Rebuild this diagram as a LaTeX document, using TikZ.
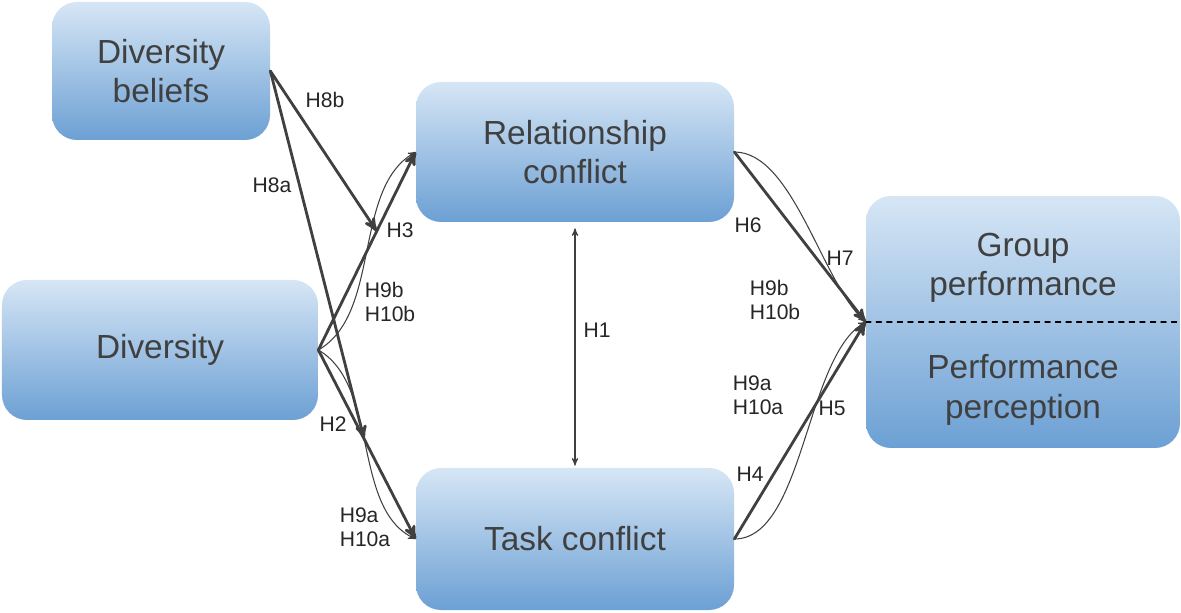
\documentclass[tikz,border=0pt]{standalone}
\usepackage{fontspec}
\setmainfont{Liberation Sans}
\usepackage{tikz}
\usetikzlibrary{arrows,calc}

\definecolor{boxtop}{RGB}{214,230,245}
\definecolor{boxbot}{RGB}{108,160,212}
\definecolor{ink}{RGB}{64,64,64}

\tikzset{
  varbox/.style={rectangle,rounded corners=0.5cm,top color=boxtop,bottom color=boxbot,
    draw=none,text=ink,align=center,inner sep=0pt,font=\fontsize{19}{22}\selectfont},
  hyp/.style={text=black!85,align=left,inner sep=0pt,font=\fontsize{12}{13.5}\selectfont},
  main/.style={->,draw=ink,line width=1.6pt},
  side/.style={->,draw=ink,line width=0.6pt}
}

\begin{document}
\begin{tikzpicture}[line cap=round,line join=round,>=stealth',x=1.0cm,y=1.0cm]
\useasboundingbox (0,0) rectangle (23.62,12.24);

% variables
\node[varbox,minimum width=4.36cm,minimum height=2.76cm] (bel) at (3.22,10.82) {Diversity\\beliefs};
\node[varbox,minimum width=6.32cm,minimum height=2.8cm] (div) at (3.2,5.24) {Diversity};
\node[varbox,minimum width=6.36cm,minimum height=2.8cm] (rel) at (11.5,9.2) {Relationship\\conflict};
\node[varbox,minimum width=6.36cm,minimum height=2.84cm] (task) at (11.5,1.46) {Task conflict};
\node[varbox,minimum width=6.28cm,minimum height=5.04cm] (grp) at (20.46,5.8) {};
\node[text=ink,align=center,font=\fontsize{19}{22.5}\selectfont] (gperf) at (20.46,6.88) {Group\\performance};
\node[text=ink,align=center,font=\fontsize{19}{22.5}\selectfont] (pperc) at (20.46,4.44) {Performance\\perception};
\draw[dashed,line width=0.6pt,black] (grp.west) -- (grp.east);

% direct effects
\draw[main] (div.east) -- (rel.west);
\draw[main] (div.east) -- (task.west);
\draw[main] (rel.east) -- (grp.west);
\draw[main] (task.east) -- (grp.west);
\draw[side] (div.east) to[out=30,in=210,looseness=0.85] (rel.west);
\draw[side] (div.east) to[out=-30,in=155,looseness=0.85] (task.west);
\draw[side] (rel.east) to[out=0,in=138,looseness=0.7] (grp.west);
\draw[side] (task.east) to[out=0,in=210,looseness=0.7] (grp.west);

% moderation
\coordinate (m3) at ($(div.east)!0.6!(rel.west)$);
\coordinate (m2) at ($(div.east)!0.47!(task.west)$);
\draw[main] (bel.east) -- (m3);
\draw[main] (bel.east) -- (m2);

% correlation
\draw[<->,draw=ink,line width=0.6pt,shorten <=0.12cm,shorten >=0.04cm] (rel.south) -- (task.north);

% labels
\node[hyp] (h8b) at (6.5,10.24) {H8b};
\node[hyp] (h8a) at (5.44,8.54) {H8a};
\node[hyp] (h3) at (8.0,7.64) {H3};
\node[hyp] (h9b) at (7.8,6.2) {H9b\\H10b};
\node[hyp] (h2) at (6.66,3.76) {H2};
\node[hyp] (h9a) at (7.3,1.7) {H9a\\H10a};
\node[hyp] (h1) at (11.94,5.64) {H1};
\node[hyp] (h6) at (14.96,7.74) {H6};
\node[hyp] (h7) at (16.8,7.08) {H7};
\node[hyp] (h9bb) at (15.5,6.24) {H9b\\H10b};
\node[hyp] (h9aa) at (15.16,4.34) {H9a\\H10a};
\node[hyp] (h5) at (16.64,4.08) {H5};
\node[hyp] (h4) at (15.0,2.76) {H4};
\end{tikzpicture}
\end{document}
